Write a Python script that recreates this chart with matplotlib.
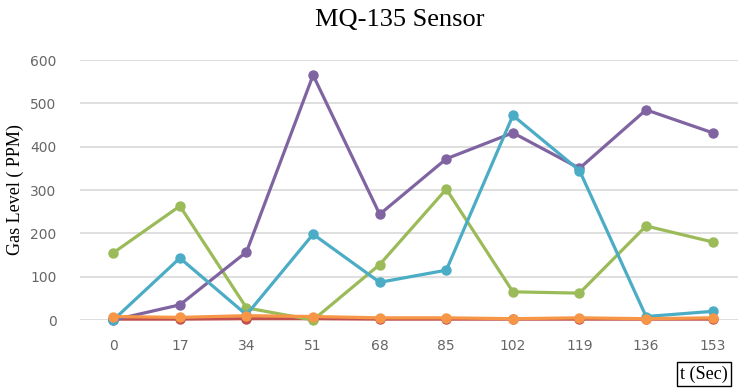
import numpy as np
import matplotlib.pyplot as plt

# data
t_sec = ["0", "17", "34", "51", "68", "85", "102", "119", "136", "153"]
red = [2, 2, 3, 3, 2, 2, 2, 2, 2, 2]
green = [155, 263, 28, 0, 128, 302, 65, 62, 217, 180]
purple = [0, 35, 157, 565, 244, 372, 432, 350, 485, 432]
blue = [0, 143, 12, 198, 87, 115, 472, 345, 8, 20]
orange = [8, 6, 10, 8, 5, 5, 3, 5, 3, 5]

series = [
    (red, "#C0504D"),
    (green, "#9BBB59"),
    (purple, "#8064A2"),
    (blue, "#4BACC6"),
    (orange, "#F79646"),
]

fig = plt.figure(figsize=(7.38, 3.88), dpi=100)
ax = fig.add_axes([80 / 738, 68 / 388, 658 / 738, 260 / 388])

x = np.arange(len(t_sec))
for vals, col in series:
    ax.plot(x, vals, color=col, lw=2.3, marker="o", ms=6.5, clip_on=False, zorder=3)

ax.set_xlim(-0.5, 9.38)
ax.set_ylim(0, 600)
ax.set_yticks(range(0, 601, 100))
ax.set_xticks(x)
ax.set_xticklabels(t_sec)
ax.grid(axis="y", color="#D9D9D9", lw=1.2)
ax.set_axisbelow(True)
for s in ax.spines.values():
    s.set_visible(False)
ax.tick_params(length=0, labelsize=10, labelcolor="#666666", pad=14)
ax.tick_params(axis="y", pad=17)

fig.text(400 / 738, 1 - 20 / 388, "MQ-135 Sensor", ha="center", va="center",
         fontsize=19, family="Liberation Serif")
fig.text(15 / 738, 1 - 190 / 388, "Gas Level ( PPM)", ha="center", va="center",
         rotation=90, fontsize=13, family="Liberation Serif")
fig.text(704 / 738, 1 - 374 / 388, "t (Sec)", ha="center", va="center",
         fontsize=13, family="Liberation Serif",
         bbox=dict(boxstyle="square,pad=0.2", fc="white", ec="black", lw=1))

fig.savefig("out.png", dpi=100)
